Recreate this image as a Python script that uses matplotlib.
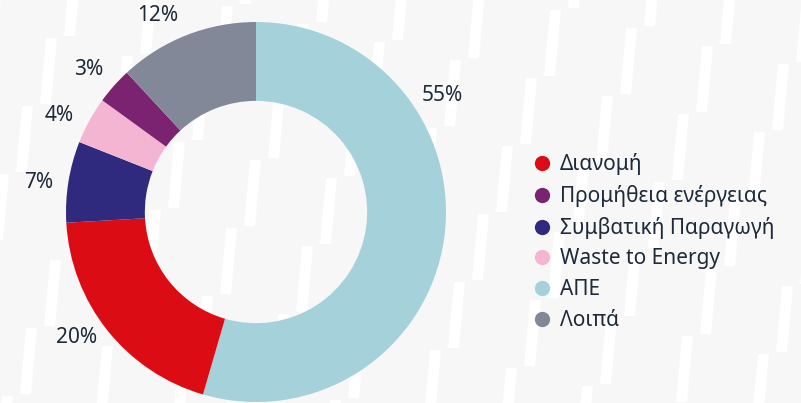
import numpy as np
import matplotlib.pyplot as plt
from matplotlib.patches import Polygon
from matplotlib.lines import Line2D

# data (clockwise from 12 o'clock)
categories = ["ΑΠΕ", "Διανομή", "Συμβατική Παραγωγή", "Waste to Energy",
              "Προμήθεια ενέργειας", "Λοιπά"]
shares = [54.5, 19.6, 6.9, 4.0, 3.1, 11.9]
pct_labels = ["55%", "20%", "7%", "4%", "3%", "12%"]
colors = ["#a5d2da", "#dc0c15", "#2f2a7e", "#f4b5d3", "#7b2270", "#838898"]

# legend order as in the original
legend_order = ["Διανομή", "Προμήθεια ενέργειας", "Συμβατική Παραγωγή",
                "Waste to Energy", "ΑΠΕ", "Λοιπά"]

plt.rcParams["font.family"] = ["Noto Sans", "DejaVu Sans"]
TEXT = "#1c2a3a"
BG = "#f7f7f7"

W, H = 801, 403
fig = plt.figure(figsize=(W / 100, H / 100), dpi=100, facecolor=BG)

# ---------------------------------------------------------
# background: slanted white bars
# ---------------------------------------------------------
u = np.array([76.0, 18.0])
v = np.array([-24.0, 68.0])
base = np.array([550.0, 10.0])
for i in range(-14, 14):
    for j in range(-10, 10):
        x0, y0 = base + i * u + j * v
        if x0 < -30 or x0 > W + 30 or y0 < -80 or y0 > H + 10:
            continue
        pts = [(x0, y0), (x0 + 11, y0), (x0 + 5, y0 + 66), (x0 - 6, y0 + 66)]
        pts = [(px / W, 1 - py / H) for px, py in pts]
        fig.patches.append(Polygon(pts, closed=True, facecolor="white",
                                   edgecolor="none", transform=fig.transFigure,
                                   zorder=0))

# ---------------------------------------------------------
# donut
# ---------------------------------------------------------
R = 190.0
cx, cy = 256.0, 212.0
ax = fig.add_axes([0, 0, 1, 1])
ax.set_zorder(2)
ax.patch.set_alpha(0)
wedges, _ = ax.pie(shares, colors=colors, startangle=90, counterclock=False,
                   radius=1.0, wedgeprops=dict(width=0.415, linewidth=0))
ax.set_xlim(-cx / R, (W - cx) / R)
ax.set_ylim(-(H - cy) / R, cy / R)
ax.set_aspect("auto")
ax.axis("off")

# percentage labels around the ring (angles clockwise from top)
label_angles = [58, 235, 277.6, 296, 310.5, 333.4]
for ang, lab in zip(label_angles, pct_labels):
    a = np.deg2rad(ang)
    ax.text(1.155 * np.sin(a), 1.155 * np.cos(a), lab, ha="center",
            va="center", fontsize=15, color=TEXT)

# ---------------------------------------------------------
# legend
# ---------------------------------------------------------
handles = [Line2D([], [], marker="o", linestyle="none", markersize=11,
                  markerfacecolor=colors[categories.index(c)],
                  markeredgewidth=0) for c in legend_order]
leg = fig.legend(handles, legend_order, loc="upper left",
                 bbox_to_anchor=(519 / W, 1 - 143 / H), frameon=False,
                 fontsize=15, labelcolor=TEXT, handletextpad=0.28,
                 labelspacing=0.465, handlelength=1.2, borderpad=0)
leg.set_zorder(3)

fig.savefig("out.png", dpi=100, facecolor=BG)
